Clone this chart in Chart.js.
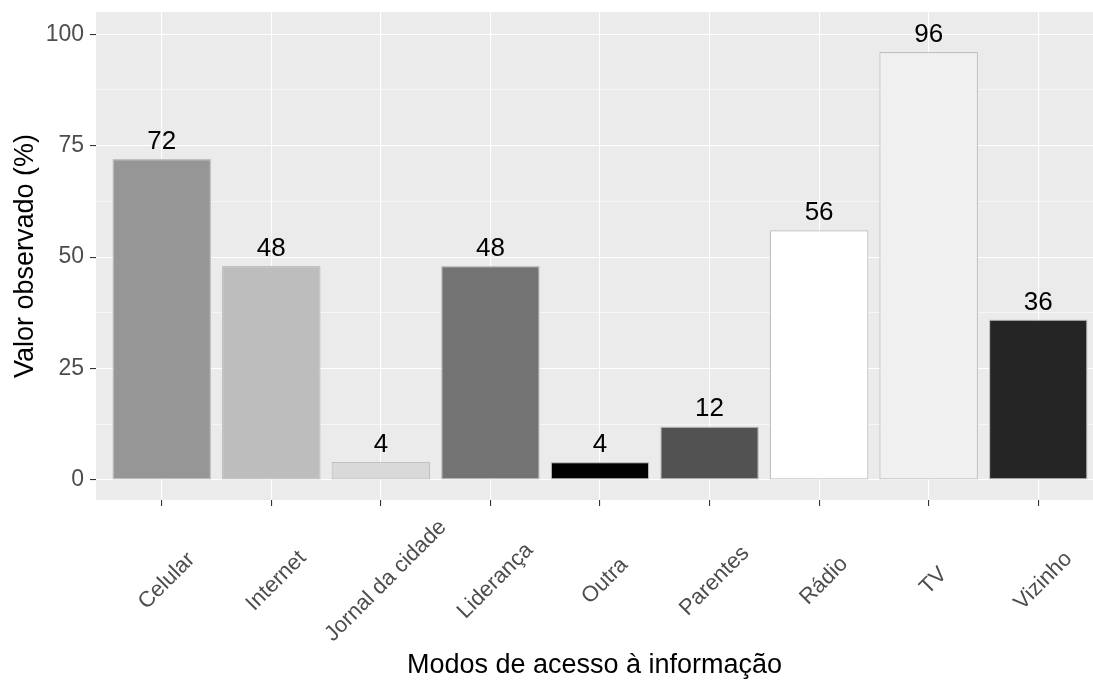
<!DOCTYPE html>
<html>
<head>
<meta charset="utf-8">
<script src="https://cdn.jsdelivr.net/npm/chart.js@4.4.1/dist/chart.umd.min.js"></script>
<style>
  body { margin: 0; background: #fff; }
  canvas { display: block; }
</style>
</head>
<body>
<canvas id="grafico" width="1093" height="684"></canvas>
<script>
// dados
const categorias = ["Celular", "Internet", "Jornal da cidade", "Liderança", "Outra", "Parentes", "Rádio", "TV", "Vizinho"];
const valores = [72, 48, 4, 48, 4, 12, 56, 96, 36];
const cores = ["#969696", "#BDBDBD", "#D9D9D9", "#737373", "#000000", "#525252", "#FFFFFF", "#F0F0F0", "#252525"];
const yTicks = [0, 12.5, 25, 37.5, 50, 62.5, 75, 87.5, 100];
const yMajor = [0, 25, 50, 75, 100];

const fonte = "'Liberation Sans', Arial, sans-serif";
const isMajor = (v) => yMajor.includes(v);

// fundo cinza do painel (estilo ggplot)
const painel = {
  id: "painel",
  beforeDraw(chart) {
    const { ctx, chartArea: a } = chart;
    ctx.save();
    ctx.fillStyle = "#fff";
    ctx.fillRect(0, 0, chart.width, chart.height);
    ctx.fillStyle = "#EBEBEB";
    ctx.fillRect(a.left, a.top, a.right - a.left, a.bottom - a.top);
    ctx.restore();
  },
};

// valores em cima das barras
const rotulos = {
  id: "rotulos",
  afterDatasetsDraw(chart) {
    const ctx = chart.ctx;
    const meta = chart.getDatasetMeta(0);
    ctx.save();
    ctx.font = "26px " + fonte;
    ctx.fillStyle = "#000";
    ctx.textAlign = "center";
    ctx.textBaseline = "alphabetic";
    meta.data.forEach((bar, i) => {
      ctx.fillText(String(valores[i]), bar.x, bar.y - 10);
    });
    ctx.restore();
  },
};

// nomes das categorias girados 45 graus, centrados no tick
const eixoX = {
  id: "eixoX",
  afterDraw(chart) {
    const { ctx, chartArea: a } = chart;
    const sx = chart.scales.x;
    ctx.save();
    ctx.font = "22px " + fonte;
    ctx.fillStyle = "#4D4D4D";
    ctx.textAlign = "center";
    ctx.textBaseline = "middle";
    categorias.forEach((c, i) => {
      ctx.save();
      ctx.translate(sx.getPixelForValue(i) + 5, a.bottom + 81);
      ctx.rotate(-Math.PI / 4);
      ctx.fillText(c, 0, 0);
      ctx.restore();
    });
    ctx.restore();
  },
};

const config = {
  type: "bar",
  data: {
    datasets: [
      {
        data: valores.map((v, i) => ({ x: i, y: v })),
        backgroundColor: cores,
        borderColor: "#C0C0C0",
        borderWidth: 1.2,
        borderSkipped: false,
        barPercentage: 0.9,
        categoryPercentage: 1,
      },
    ],
  },
  options: {
    responsive: false,
    animation: false,
    devicePixelRatio: 1,
    layout: { padding: { top: 12, left: 0, right: 0, bottom: 0 } },
    plugins: {
      legend: { display: false },
      tooltip: { enabled: false },
    },
    scales: {
      x: {
        type: "linear",
        min: -0.6,
        max: 8.5,
        offset: false,
        afterBuildTicks: (s) => {
          s.ticks = categorias.map((c, i) => ({ value: i }));
        },
        afterFit: (s) => {
          s.height = 184;
          s.paddingLeft = 0;
          s.paddingRight = 0;
        },
        grid: {
          offset: false,
          color: "#FFFFFF",
          lineWidth: 1.1,
          drawTicks: true,
          tickLength: 6,
          tickColor: "#333333",
          tickWidth: 1.1,
        },
        border: { display: false },
        ticks: { display: false },
        title: {
          display: true,
          text: "Modos de acesso à informação",
          color: "#000",
          font: { family: fonte, size: 27 },
          padding: { top: 0, bottom: 2 },
        },
      },
      y: {
        min: -4.5,
        max: 105,
        afterBuildTicks: (s) => {
          s.ticks = yTicks.map((v) => ({ value: v }));
        },
        afterFit: (s) => {
          s.width = 96;
          s.paddingTop = 0;
          s.paddingBottom = 0;
        },
        grid: {
          color: "#FFFFFF",
          lineWidth: (c) => (isMajor(c.tick.value) ? 1.1 : 0.55),
          tickLength: 6,
          tickColor: (c) => (isMajor(c.tick.value) ? "#333333" : "rgba(0,0,0,0)"),
          tickWidth: 1.1,
        },
        border: { display: false },
        ticks: {
          callback: (v) => (isMajor(v) ? v : ""),
          color: "#4D4D4D",
          font: { family: fonte, size: 23 },
          padding: 6,
        },
        title: {
          display: true,
          text: "Valor observado (%)",
          color: "#000",
          font: { family: fonte, size: 27 },
          padding: { top: 9, bottom: 0 },
        },
      },
    },
  },
  plugins: [painel, rotulos, eixoX],
};

const grafico = new Chart(document.getElementById("grafico").getContext("2d"), config);
</script>
</body>
</html>
